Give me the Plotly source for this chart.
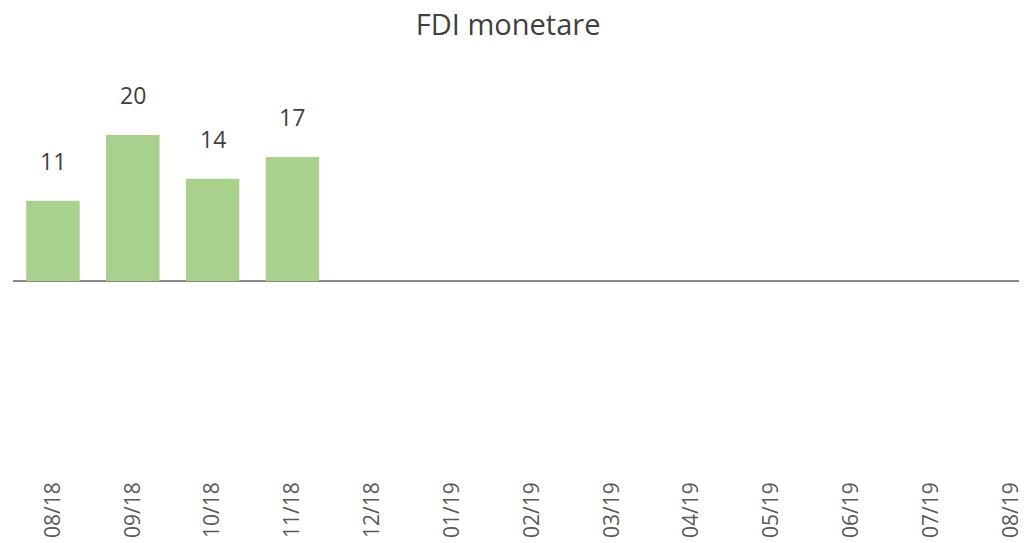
import plotly.graph_objects as go

# data
months = ["08/18", "09/18", "10/18", "11/18", "12/18", "01/19", "02/19",
          "03/19", "04/19", "05/19", "06/19", "07/19", "08/19"]
fdi_values = [11, 20, 14, 17, None, None, None, None, None, None, None, None, None]

bar_color = "#a9d18e"
text_color = "#404040"

fig = go.Figure()
fig.add_trace(go.Bar(x=months, y=fdi_values, marker_color=bar_color,
                     marker_line_width=0, hoverinfo="x+y"))

# value labels above the bars
for m, v in zip(months, fdi_values):
    if v is None:
        continue
    fig.add_annotation(x=m, y=v, text=str(v), showarrow=False,
                       yanchor="bottom", yshift=22,
                       font=dict(size=23, color=text_color))

fig.update_layout(
    width=1027, height=543,
    margin=dict(l=5, r=0, t=42, b=82, autoexpand=False),
    paper_bgcolor="white", plot_bgcolor="white",
    font=dict(family="Open Sans, Noto Sans, sans-serif", color=text_color),
    title=dict(text="FDI monetare", x=0.487, xanchor="center", y=0.988, yanchor="top",
               pad=dict(t=0, b=0), font=dict(size=29, color=text_color)),
    bargap=0.33,
    showlegend=False,
)
fig.update_xaxes(type="category", range=[-0.5, 12.3], tickangle=-90, automargin=False,
                 showgrid=False, showline=False, ticks="", ticklabelstandoff=8,
                 tickfont=dict(size=21, color="#595959"))
fig.update_yaxes(range=[-25.75, 31.64], showgrid=False, showticklabels=False, automargin=False,
                 zeroline=True, zerolinecolor="#898989", zerolinewidth=2)

fig.write_html("out.html")
